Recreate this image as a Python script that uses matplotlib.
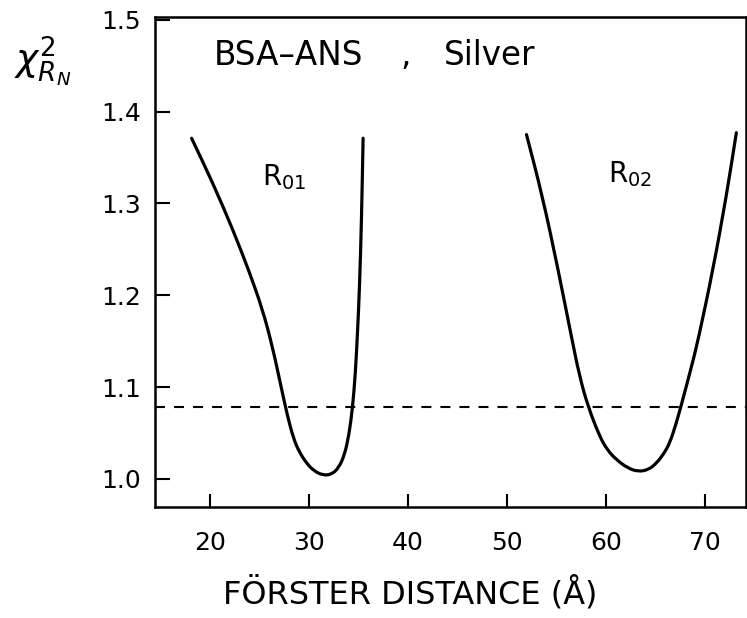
import numpy as np
import matplotlib
matplotlib.use("Agg")
import matplotlib.pyplot as plt
from matplotlib.path import Path
from matplotlib.patches import PathPatch

plt.rcParams["font.family"] = ["DejaVu Sans"]
plt.rcParams["mathtext.fontset"] = "dejavusans"
plt.rcParams["lines.scale_dashes"] = False

# chi-square surface vs. assumed Forster distance, first minimum (R01)
r01_distance = [18.15, 20.30, 22.30, 24.00, 25.30, 26.30, 27.20, 27.85, 28.45,
                29.00, 29.77, 30.50, 31.40, 32.30, 33.00, 33.60, 34.05, 34.41,
                34.70, 34.92, 35.12, 35.32, 35.48]
r01_chi2 = [1.371, 1.322, 1.272, 1.225, 1.185, 1.145, 1.100, 1.068, 1.044,
            1.030, 1.017, 1.009, 1.004, 1.005, 1.012, 1.026, 1.048, 1.077,
            1.115, 1.160, 1.209, 1.282, 1.371]

# second minimum (R02)
r02_distance = [51.99, 53.60, 55.15, 56.53, 57.37, 58.21, 59.39, 60.20, 61.08,
                62.20, 63.26, 64.30, 65.12, 65.90, 66.46, 67.05, 67.65, 68.66,
                69.33, 70.84, 72.19, 73.20]
r02_chi2 = [1.375, 1.308, 1.230, 1.155, 1.111, 1.079, 1.046, 1.031, 1.021,
            1.012, 1.008, 1.010, 1.017, 1.028, 1.039, 1.058, 1.081, 1.122,
            1.151, 1.228, 1.308, 1.377]

# 67% confidence threshold
chi2_threshold = 1.078

x_ticks = [20, 30, 40, 50, 60, 70]
y_ticks = [1.0, 1.1, 1.2, 1.3, 1.4, 1.5]
y_tick_labels = ["1.0", "1.1", "1.2", "1.3", "1.4", "1.5"]


def smooth_path(xs, ys):
    """Quadratic Bezier path through the midpoints of the sampled curve."""
    pts = np.column_stack([xs, ys])
    mids = (pts[:-1] + pts[1:]) / 2
    verts = [pts[0], mids[0]]
    codes = [Path.MOVETO, Path.LINETO]
    for i in range(1, len(pts) - 1):
        verts += [pts[i], mids[i]]
        codes += [Path.CURVE3, Path.CURVE3]
    verts.append(pts[-1])
    codes.append(Path.LINETO)
    return Path(verts, codes)


W, H = 747, 618
fig = plt.figure(figsize=(W / 100, H / 100), dpi=100)
ax = fig.add_axes([155 / W, (H - 507) / H, 1 - 155 / W - 0.001, (507 - 17) / H])

ax.set_xlim(14.45, 74.2)
ax.set_ylim(0.9695, 1.503)

for xs, ys in [(r01_distance, r01_chi2), (r02_distance, r02_chi2)]:
    ax.add_patch(PathPatch(smooth_path(xs, ys), facecolor="none",
                           edgecolor="black", lw=2.3, capstyle="round"))

ax.axhline(chi2_threshold, color="black", lw=1.5, linestyle=(0, (7.2, 6.5)))

for side in ["left", "bottom", "top", "right"]:
    ax.spines[side].set_linewidth(1.8)

ax.set_xticks(x_ticks)
ax.set_yticks(y_ticks)
ax.set_yticklabels(y_tick_labels)
ax.tick_params(axis="x", direction="in", length=9.5, width=1.5,
               pad=17, labelsize=18)
ax.tick_params(axis="y", direction="in", length=10.5, width=1.5,
               pad=10, labelsize=18)

# axis titles
fig.text(410 / W, 1 - 603 / H, "FÖRSTER DISTANCE (Å)", fontsize=23,
         ha="center", va="baseline")
fig.text(14 / W, 1 - 62 / H, r"$\chi^2_{R_N}$", fontsize=27,
         ha="left", va="center")

# sample / mirror annotation
ax.text(27.98, 1.451, "BSA–ANS", fontsize=23.5, va="baseline", ha="center")
ax.text(39.8, 1.451, ",", fontsize=23.5, va="baseline", ha="center")
ax.text(48.28, 1.451, "Silver", fontsize=23.5, va="baseline", ha="center")

ax.text(25.25, 1.320, r"R$_{01}$", fontsize=20, va="baseline", ha="left")
ax.text(60.2, 1.3235, r"R$_{02}$", fontsize=20, va="baseline", ha="left")

fig.savefig("out.png", dpi=100)
